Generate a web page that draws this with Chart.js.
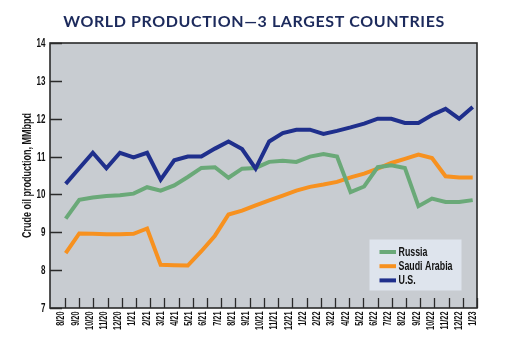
<!DOCTYPE html>
<html>
<head>
<meta charset="utf-8">
<script src="https://cdn.jsdelivr.net/npm/chart.js@4/dist/chart.umd.min.js"></script>
<style>
  html, body { margin: 0; padding: 0; background: #ffffff; }
  #wrap { width: 525px; height: 350px; }
</style>
</head>
<body>
<div id="wrap"><canvas id="c" width="525" height="350"></canvas></div>
<script>
// ---- data ----
const chartTitle = 'WORLD PRODUCTION\u20143 LARGEST COUNTRIES';
const yAxisTitle = 'Crude oil production, MMbpd';
const monthLabels = ['8/20','9/20','10/20','11/20','12/20','1/21','2/21','3/21','4/21','5/21','6/21','7/21','8/21','9/21','10/21','11/21','12/21','1/22','2/22','3/22','4/22','5/22','6/22','7/22','8/22','9/22','10/22','11/22','12/22','1/23'];
const yTickValues = [7, 8, 9, 10, 11, 12, 13, 14];
const seriesNames = ['Russia', 'Saudi Arabia', 'U.S.'];
// the plotted lines carry 31 readings each, spread evenly across the axis width
const russia = [9.36, 9.86, 9.92, 9.96, 9.98, 10.02, 10.19, 10.1, 10.24, 10.46, 10.7, 10.72, 10.44, 10.68, 10.7, 10.86, 10.89, 10.86, 11.0, 11.07, 11.0, 10.06, 10.21, 10.72, 10.77, 10.7, 9.69, 9.89, 9.8, 9.8, 9.85];
const saudiArabia = [8.45, 8.97, 8.96, 8.95, 8.95, 8.96, 9.1, 8.14, 8.13, 8.12, 8.5, 8.91, 9.47, 9.57, 9.71, 9.84, 9.97, 10.1, 10.2, 10.26, 10.33, 10.45, 10.55, 10.68, 10.83, 10.94, 11.05, 10.96, 10.48, 10.45, 10.45];
const us = [10.28, 10.69, 11.1, 10.69, 11.1, 10.98, 11.1, 10.39, 10.9, 11.0, 11.0, 11.21, 11.4, 11.2, 10.68, 11.4, 11.62, 11.71, 11.71, 11.6, 11.68, 11.77, 11.87, 12.0, 12.0, 11.89, 11.89, 12.1, 12.26, 12.0, 12.31];

// ---- styles ----
const COND = "'Liberation Sans', Arial, sans-serif";   // drawn horizontally squeezed to imitate a condensed face
const SQUEEZE = 0.7;
const TITLE_FONT = "Lato, 'Open Sans', sans-serif";
const COLORS = { russia: '#6aa978', saudi: '#f7911f', us: '#1f2f8c' };
const PLOT_BG = '#c8ccd1';
const LEGEND_BG = '#dee4ed';
const FRAME = '#2a2a2a';
const TEXT = '#111111';
const TITLE_COLOR = '#1c2a5c';

const toPoints = arr => arr.map((v, i) => ({ x: i, y: v }));

function condText(ctx, text, x, y, rot, align, font, sx) {
  ctx.save();
  ctx.translate(x, y);
  ctx.rotate(rot);
  ctx.scale(sx, 1);
  ctx.font = font;
  ctx.fillStyle = TEXT;
  ctx.textAlign = align;
  ctx.textBaseline = 'middle';
  ctx.fillText(text, 0, 0);
  ctx.restore();
}

const framePlugin = {
  id: 'frameAndLegend',
  beforeDraw(chart) {
    const { ctx, chartArea: a } = chart;
    ctx.save();
    ctx.fillStyle = PLOT_BG;
    ctx.fillRect(a.left, a.top, a.right - a.left, a.bottom - a.top);
    ctx.restore();
  },
  afterDraw(chart) {
    const { ctx, chartArea: a, scales } = chart;
    ctx.save();
    // inner tick marks
    ctx.strokeStyle = FRAME;
    ctx.lineWidth = 1.6;
    ctx.beginPath();
    scales.y.ticks.forEach(t => {
      const y = Math.round(scales.y.getPixelForValue(t.value)) + 0.5;
      ctx.moveTo(a.left, y); ctx.lineTo(a.left + 12, y);
    });
    ctx.stroke();
    ctx.lineWidth = 1.3;
    ctx.beginPath();
    scales.xl.ticks.forEach(t => {
      const x = Math.round(scales.xl.getPixelForValue(t.value)) + 0.5;
      ctx.moveTo(x, a.bottom); ctx.lineTo(x, a.bottom - 10);
    });
    ctx.stroke();
    // frame
    ctx.lineWidth = 1.6;
    ctx.strokeRect(a.left, a.top, a.right - a.left, a.bottom - a.top);

    // y tick labels
    scales.y.ticks.forEach(t => {
      condText(ctx, String(t.value), a.left - 4.5, scales.y.getPixelForValue(t.value) + 0.5, 0, 'right', 'bold 12.5px ' + COND, 0.64);
    });
    // x tick labels, rotated
    scales.xl.ticks.forEach(t => {
      condText(ctx, monthLabels[t.value], scales.xl.getPixelForValue(t.value) - 3.5, a.bottom + 3.5, -Math.PI / 2, 'right', 'bold 10.5px ' + COND, SQUEEZE);
    });
    // y axis title
    condText(ctx, yAxisTitle, 28, (a.top + a.bottom) / 2, -Math.PI / 2, 'center', 'bold 12.5px ' + COND, 0.72);

    // chart title
    ctx.fillStyle = TITLE_COLOR;
    ctx.font = 'bold 16px ' + TITLE_FONT;
    ctx.textAlign = 'center';
    ctx.textBaseline = 'alphabetic';
    if ('letterSpacing' in ctx) ctx.letterSpacing = '0.6px';
    ctx.fillText(chartTitle, 254, 27);
    if ('letterSpacing' in ctx) ctx.letterSpacing = '0px';

    // legend box inside plot
    const ds = chart.data.datasets;
    const bw = 92, bh = 51;
    const bx = a.right - 15.5 - bw, by = a.bottom - 17.5 - bh;
    ctx.fillStyle = LEGEND_BG;
    ctx.fillRect(bx, by, bw, bh);
    ds.forEach((d, i) => {
      const cy = by + 12.5 + i * 14.2;
      ctx.strokeStyle = d.borderColor;
      ctx.lineWidth = 4;
      ctx.beginPath();
      ctx.moveTo(bx + 10, cy); ctx.lineTo(bx + 26.5, cy);
      ctx.stroke();
      condText(ctx, d.label, bx + 29, cy + 0.5, 0, 'left', 'bold 13px ' + COND, 0.68);
    });
    ctx.restore();
  }
};

new Chart(document.getElementById('c'), {
  type: 'line',
  data: {
    datasets: [
      { label: seriesNames[0], data: toPoints(russia), borderColor: COLORS.russia, order: 1 },
      { label: seriesNames[1], data: toPoints(saudiArabia), borderColor: COLORS.saudi, order: 2 },
      { label: seriesNames[2], data: toPoints(us), borderColor: COLORS.us, order: 0 }
    ]
  },
  options: {
    responsive: false,
    animation: false,
    devicePixelRatio: 1,
    layout: { padding: { top: 43, right: 48, bottom: 0, left: 0 } },
    elements: {
      line: { borderWidth: 4, tension: 0, borderJoinStyle: 'miter', borderCapStyle: 'butt', fill: false },
      point: { radius: 0, hoverRadius: 0 }
    },
    plugins: {
      legend: { display: false },
      title: { display: false },
      tooltip: { enabled: false }
    },
    scales: {
      x: {
        type: 'linear', display: false,
        min: -1.157, max: 30.317
      },
      xl: {
        type: 'linear', position: 'bottom',
        min: -1.055, max: 29.0,
        afterBuildTicks: s => { s.ticks = monthLabels.map((_, i) => ({ value: i })); },
        afterFit: s => { s.height = 42; },
        grid: { display: false, drawTicks: false },
        border: { display: false },
        ticks: { display: false, autoSkip: false }
      },
      y: {
        type: 'linear', position: 'left',
        min: yTickValues[0], max: yTickValues[yTickValues.length - 1],
        afterBuildTicks: s => { s.ticks = yTickValues.map(v => ({ value: v })); },
        afterFit: s => { s.width = 50; },
        grid: { display: false, drawTicks: false },
        border: { display: false },
        ticks: { display: false },
        title: { display: false, text: yAxisTitle }
      }
    }
  },
  plugins: [framePlugin]
});
</script>
</body>
</html>
